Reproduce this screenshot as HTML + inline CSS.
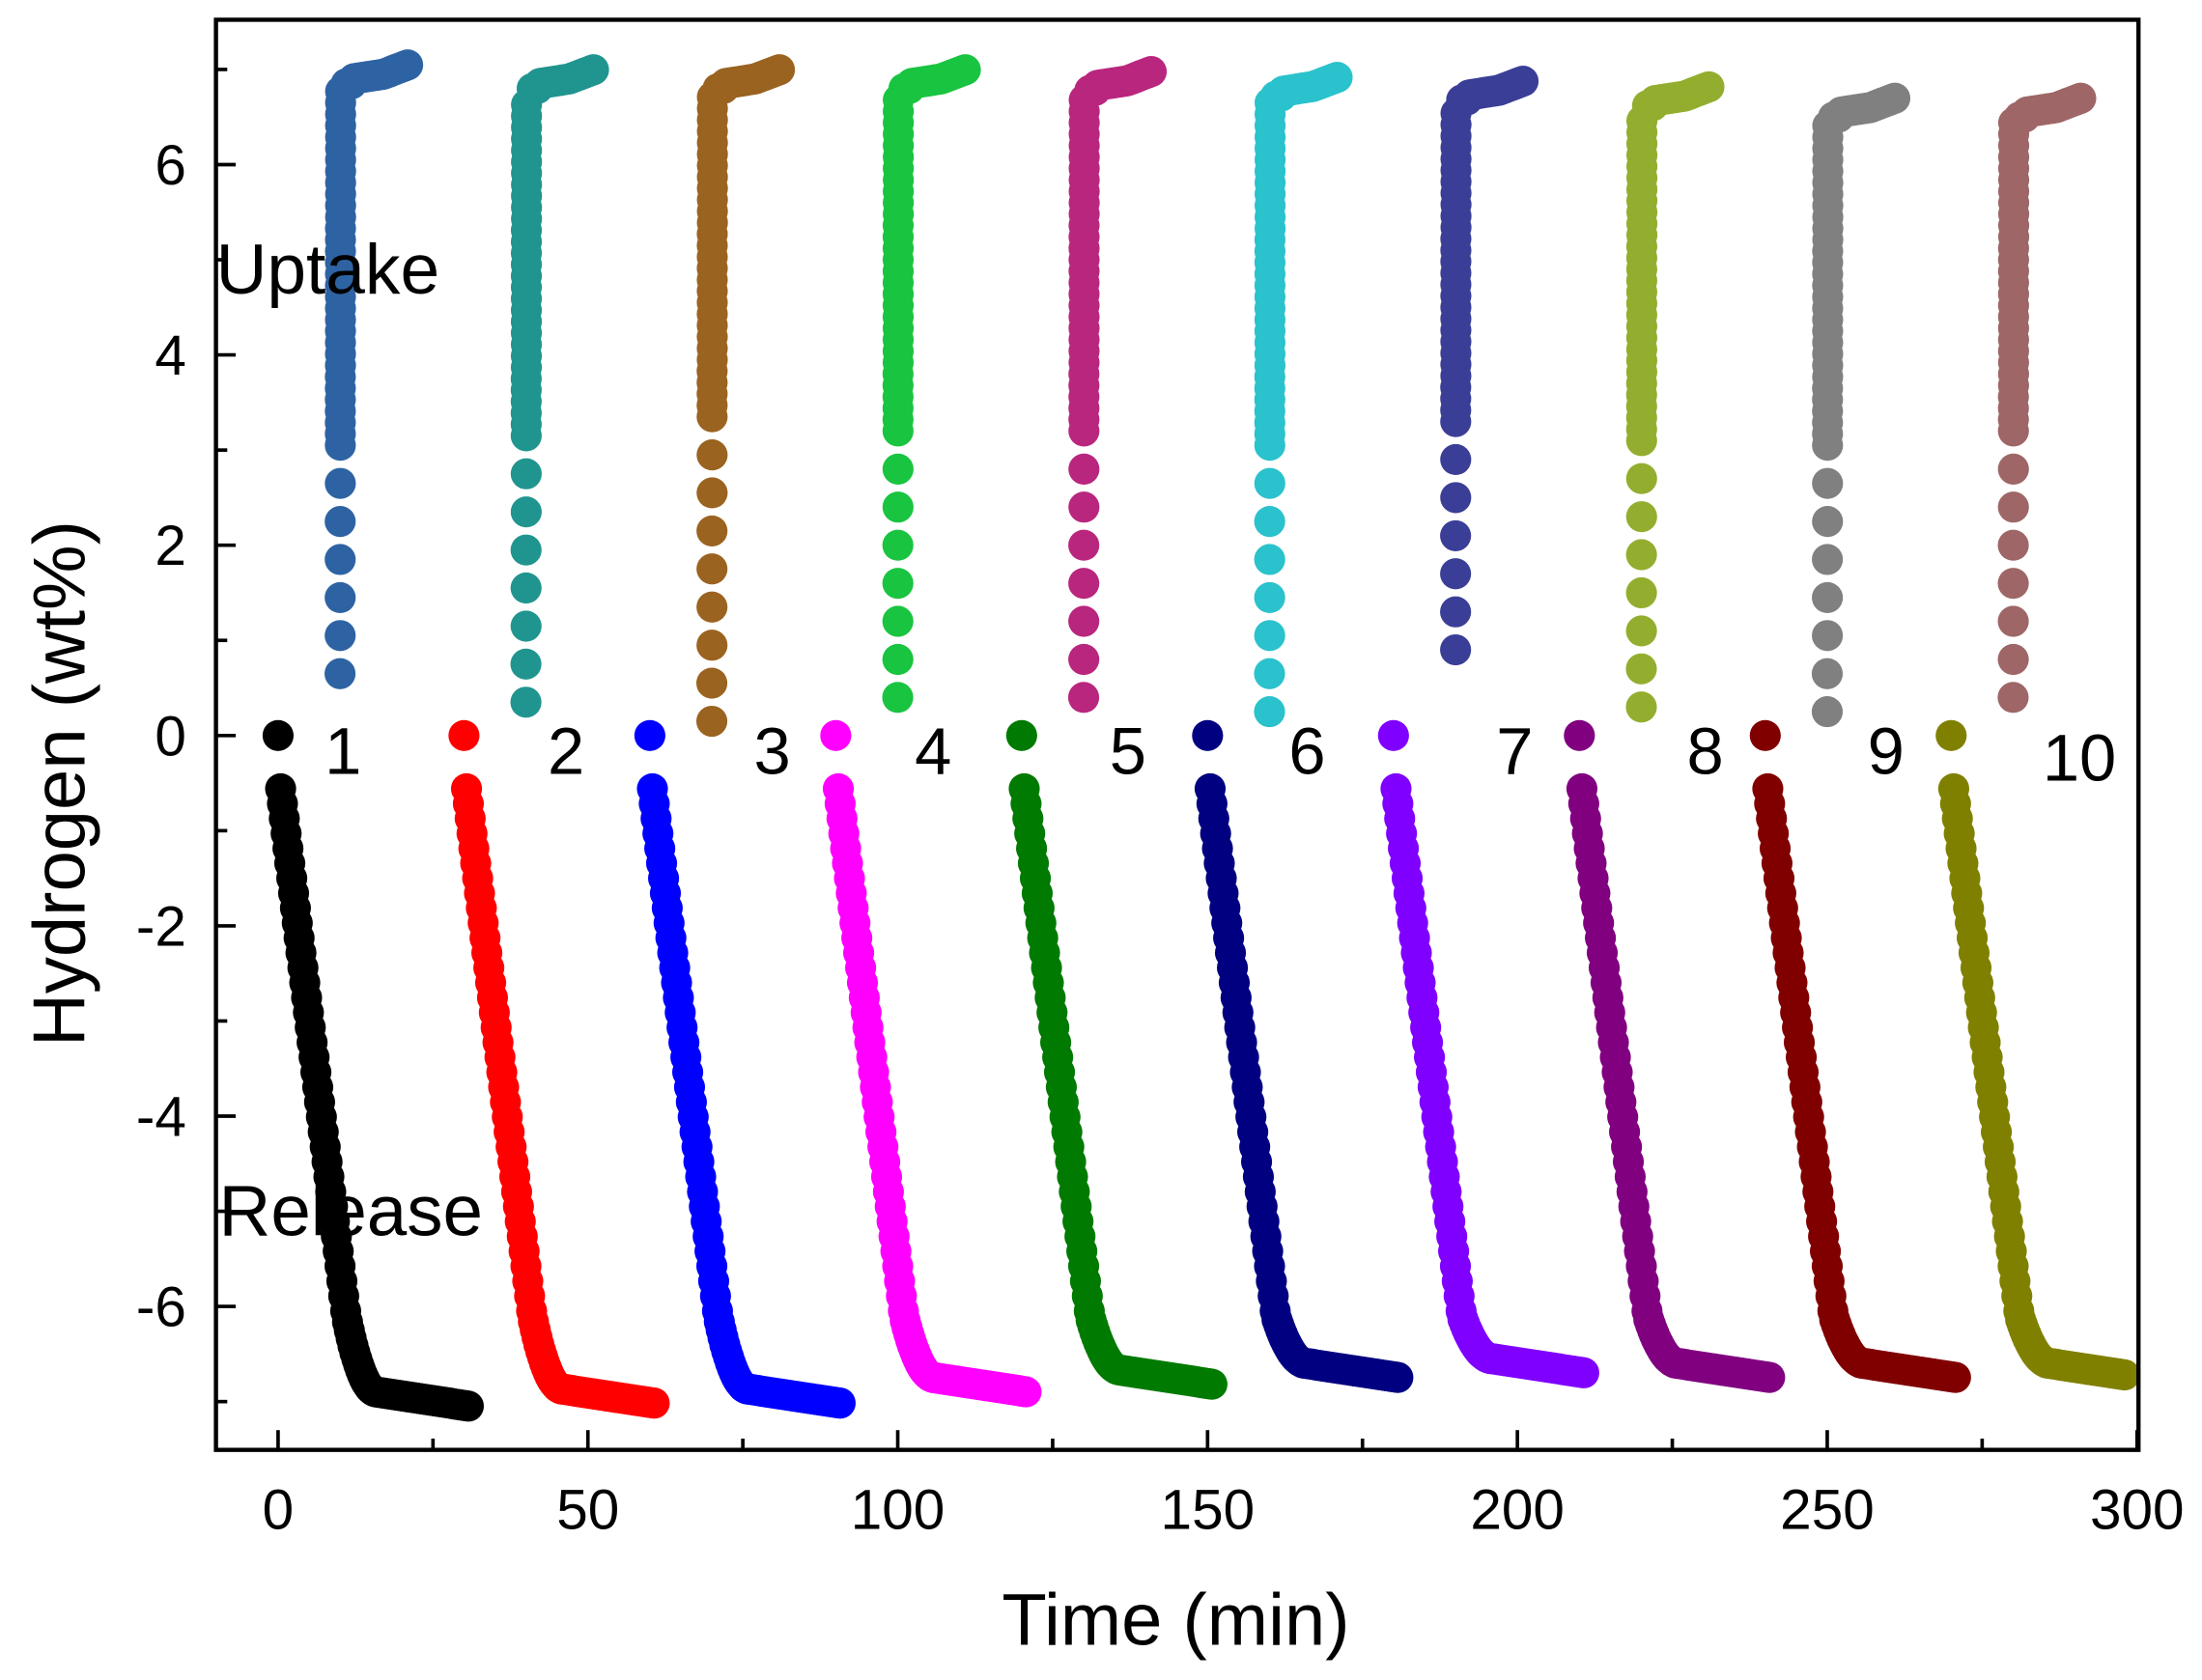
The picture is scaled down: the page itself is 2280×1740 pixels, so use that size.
<!DOCTYPE html>
<html><head><meta charset="utf-8"><style>
html,body{margin:0;padding:0;background:#fff}
svg{display:block}
text{font-family:"Liberation Sans",Arial,sans-serif;fill:#000}
</style></head><body>
<svg id="s" width="2280" height="1740" viewBox="0 0 1560 1190" preserveAspectRatio="none" xmlns="http://www.w3.org/2000/svg">
<g id="pts"></g>
<rect x="153" y="14" width="1362" height="1013" fill="none" stroke="#000" stroke-width="3"/>
<g id="ax" stroke="#000" stroke-width="2.5"></g>
<g font-size="40" text-anchor="end" id="yl"></g>
<g font-size="40" text-anchor="middle" id="xl"></g>
<text x="833" y="1165" font-size="52" text-anchor="middle">Time (min)</text>
<text transform="translate(60,555) rotate(-90)" font-size="52" text-anchor="middle">Hydrogen (wt%)</text>
<text x="153" y="208" font-size="50">Uptake</text>
<text x="155" y="875" font-size="51">Release</text>
<g font-size="47" id="nl"></g>
</svg>
<script>
const NS="http://www.w3.org/2000/svg";
const X=t=>197+4.39*t, Y=v=>521-67.4*v;
const pts=document.getElementById('pts');
function dot(t,v,c){const e=document.createElementNS(NS,'circle');e.setAttribute('cx',X(t).toFixed(1));e.setAttribute('cy',Y(v).toFixed(1));e.setAttribute('r',11);e.setAttribute('fill',c);pts.appendChild(e);}
const up=['#2E63A3','#20958F','#9A6320','#19C440','#B9267E','#2AC2CC','#3A3E96','#93AE2E','#808080','#9E6666'];
const rel=['#000000','#FF0000','#0000FF','#FF00FF','#007A00','#000080','#8000FF','#800080','#800000','#808000'];
const vmin=[0.65,0.35,0.15,0.4,0.4,0.25,0.9,0.3,0.25,0.4];
const tops=[7.05,7.0,7.0,7.0,6.98,6.92,6.88,6.82,6.7,6.7];
const ends=[-7.05,-7.02,-7.02,-6.9,-6.82,-6.75,-6.7,-6.75,-6.75,-6.75];
for(let i=0;i<10;i++){
  const t0=30*i;
  dot(t0,0,rel[i]);
  const tmax=i==9?28.3:31;
  for(let t=0.4;t<=tmax;t+=0.3){
    let v;
    const e=ends[i]+0.15;
    if(t<11) v=-0.35-5.75*(t/11);
    else if(t<16){const f=(t-11)/5;v=-6.1+(e+6.1)*(1-(1-f)*(1-f));}
    else v=e-0.15*(t-16)/15;
    dot(t0+t,v,rel[i]);
  }
  const tu=t0+10;
  const vt=tops[i]-0.25;
  for(let v=vmin[i];v<=vt;v+=(v<3?0.4:0.12)){dot(tu+0.1*(v/vt),v,up[i]);}
  for(let t=1;t<=11;t+=0.3){
    let v;
    if(t<2) v=vt+0.05;
    else v=vt+0.1+0.05*(t-2)/5;
    if(t>7) v=vt+0.15+0.1*(t-7)/4;
    dot(tu+t,v,up[i]);
  }
}
const ax=document.getElementById('ax');
function ln(x1,y1,x2,y2){const e=document.createElementNS(NS,'line');e.setAttribute('x1',x1);e.setAttribute('y1',y1);e.setAttribute('x2',x2);e.setAttribute('y2',y2);ax.appendChild(e);}
for(let v=-7;v<=7;v++){ln(153,Y(v),153+(v%2==0?14:8),Y(v));}
for(let t=0;t<=300;t+=25){ln(X(t),1027,X(t),1027-(t%50==0?14:8));}
const yl=document.getElementById('yl');
for(let v=-6;v<=6;v+=2){const e=document.createElementNS(NS,'text');e.setAttribute('x',132);e.setAttribute('y',Y(v)+14);e.textContent=v;yl.appendChild(e);}
const xl=document.getElementById('xl');
for(let t=0;t<=300;t+=50){const e=document.createElementNS(NS,'text');e.setAttribute('x',X(t));e.setAttribute('y',1083);e.textContent=t;xl.appendChild(e);}
const nl=document.getElementById('nl');
const nx=[230,388,534,648,786,913,1060,1195,1323,1447];
for(let i=0;i<10;i++){const e=document.createElementNS(NS,'text');e.setAttribute('x',nx[i]);e.setAttribute('y',i==9?553:548);e.textContent=i+1;nl.appendChild(e);}
</script>
</body></html>
